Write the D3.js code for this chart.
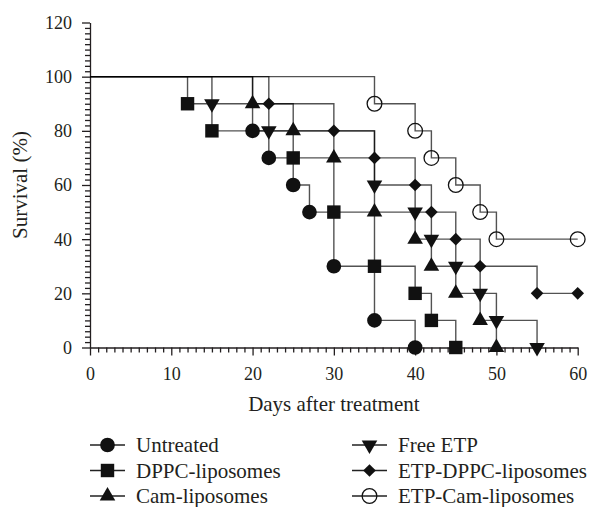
<!DOCTYPE html>
<html>
<head>
<meta charset="utf-8">
<script src="https://cdn.jsdelivr.net/npm/d3@7"></script>
<style>
  body { margin: 0; background: #fff; }
  svg text { font-family: "Liberation Serif", "Times New Roman", serif; fill: #231f20; }
</style>
</head>
<body>
<div id="chart"></div>
<script>
// day of each death and survival (%) after it, per group
const untreatedDays = [20, 22, 25, 27, 30, 35, 40];
const untreatedSurv = [80, 70, 60, 50, 30, 10, 0];
const dppcDays = [12, 15, 25, 30, 35, 40, 42, 45];
const dppcSurv = [90, 80, 70, 50, 30, 20, 10, 0];
const camDays = [20, 25, 30, 35, 40, 42, 45, 48, 50];
const camSurv = [90, 80, 70, 50, 40, 30, 20, 10, 0];
const freeEtpDays = [15, 22, 35, 40, 42, 45, 48, 50, 55];
const freeEtpSurv = [90, 80, 60, 50, 40, 30, 20, 10, 0];
const etpDppcDays = [22, 30, 35, 40, 42, 45, 48, 55, 60];
const etpDppcSurv = [90, 80, 70, 60, 50, 40, 30, 20, 20];
const etpCamDays = [35, 40, 42, 45, 48, 50, 60];
const etpCamSurv = [90, 80, 70, 60, 50, 40, 40];

const groupNames = ["Untreated", "DPPC-liposomes", "Cam-liposomes",
                    "Free ETP", "ETP-DPPC-liposomes", "ETP-Cam-liposomes"];
const xTicks = [0, 10, 20, 30, 40, 50, 60];
const yTicks = [0, 20, 40, 60, 80, 100, 120];

const groups = [
  {name: groupNames[0], days: untreatedDays, surv: untreatedSurv, shape: "circle"},
  {name: groupNames[1], days: dppcDays, surv: dppcSurv, shape: "square"},
  {name: groupNames[2], days: camDays, surv: camSurv, shape: "up"},
  {name: groupNames[3], days: freeEtpDays, surv: freeEtpSurv, shape: "down"},
  {name: groupNames[4], days: etpDppcDays, surv: etpDppcSurv, shape: "diamond"},
  {name: groupNames[5], days: etpCamDays, surv: etpCamSurv, shape: "open"}
];

let svg = d3.select("#chart").append("svg")
  .attr("width", 591)
  .attr("height", 507);

let margin = {top: 22.5, left: 90};
let w = 487.7, h = 325;

let x = d3.scaleLinear().domain([0, 60]).range([0, w]);
let y = d3.scaleLinear().domain([0, 120]).range([h, 0]);

let plot = svg.append("g")
  .attr("transform", "translate(" + margin.left + "," + margin.top + ")");

// marker shapes
function markerPath(shape) {
  if (shape == "circle" || shape == "open") return d3.symbol(d3.symbolCircle, 170)();
  if (shape == "square") return d3.symbol(d3.symbolSquare, 180)();
  if (shape == "up" || shape == "down") return d3.symbol(d3.symbolTriangle, 105)();
  if (shape == "diamond") return d3.symbol(d3.symbolSquare, 80)();
}
function markerRotate(shape) {
  if (shape == "down") return " rotate(180)";
  if (shape == "diamond") return " rotate(45)";
  return "";
}
function drawMarker(sel, shape) {
  sel.append("path")
    .attr("d", markerPath(shape))
    .attr("fill", shape == "open" ? "none" : "#111")
    .attr("stroke", shape == "open" ? "#111" : "none")
    .attr("stroke-width", 1.3);
}

// axes
let minorY = d3.range(0, 121, 2).filter(d => d % 20 != 0);
let minorX = d3.range(0, 61, 1).filter(d => d % 10 != 0);

plot.append("g")
  .call(d3.axisLeft(y).tickValues(minorY).tickSize(5).tickFormat(""))
  .call(g => g.select(".domain").remove());
plot.append("g")
  .attr("transform", "translate(0," + h + ")")
  .call(d3.axisBottom(x).tickValues(minorX).tickSize(5).tickFormat(""))
  .call(g => g.select(".domain").remove());

let yAxis = plot.append("g")
  .call(d3.axisLeft(y).tickValues(yTicks).tickSize(8).tickSizeOuter(0));
yAxis.selectAll(".tick text")
  .attr("x", -18)
  .attr("dy", "0.33em")
  .style("font-size", "18px");

let xAxis = plot.append("g")
  .attr("transform", "translate(0," + h + ")")
  .call(d3.axisBottom(x).tickValues(xTicks).tickSize(8).tickSizeOuter(0));
xAxis.selectAll(".tick text")
  .attr("y", 32)
  .attr("dy", 0)
  .style("font-size", "18px");

plot.selectAll(".domain, .tick line")
  .attr("stroke", "#231f20")
  .attr("stroke-width", 1.3);

// survival steps
let line = d3.line().x(d => x(d[0])).y(d => y(d[1]));
groups.forEach(g => {
  let pts = [[0, 100]];
  let prev = 100;
  g.days.forEach((d, i) => {
    pts.push([d, prev]);
    pts.push([d, g.surv[i]]);
    prev = g.surv[i];
  });
  plot.append("path")
    .attr("d", line(pts))
    .attr("fill", "none")
    .attr("stroke", "#000")
    .attr("stroke-opacity", 0.68)
    .attr("stroke-width", 1.4);
});

groups.forEach(g => {
  g.days.forEach((d, i) => {
    let m = plot.append("g")
      .attr("transform", "translate(" + x(d) + "," + y(g.surv[i]) + ")" + markerRotate(g.shape));
    drawMarker(m, g.shape);
  });
});

// axis titles
svg.append("text")
  .attr("x", margin.left + w / 2)
  .attr("y", 411)
  .attr("text-anchor", "middle")
  .style("font-size", "21px")
  .text("Days after treatment");

svg.append("text")
  .attr("transform", "translate(27," + (margin.top + h / 2) + ") rotate(-90)")
  .attr("text-anchor", "middle")
  .style("font-size", "21px")
  .text("Survival (%)");

// legend
let rowY = [445, 470.5, 496];
let colX = [90, 352];
groups.forEach((g, i) => {
  let lx = colX[Math.floor(i / 3)];
  let ly = rowY[i % 3];
  let item = svg.append("g").attr("transform", "translate(" + lx + "," + ly + ")");
  item.append("line")
    .attr("x1", 0).attr("x2", 35)
    .attr("stroke", "#222").attr("stroke-width", 1.4);
  let m = item.append("g").attr("transform", "translate(17.5,0)" + markerRotate(g.shape));
  drawMarker(m, g.shape);
  item.append("text")
    .attr("x", 46)
    .attr("y", 7)
    .style("font-size", "21px")
    .text(g.name);
});
</script>
</body>
</html>
